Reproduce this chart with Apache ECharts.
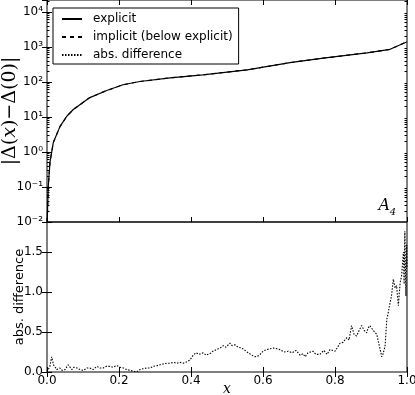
<!DOCTYPE html>
<html>
<head>
<meta charset="utf-8">
<script src="https://cdn.jsdelivr.net/npm/echarts@6/dist/echarts.min.js"></script>
<style>
  html, body { margin: 0; padding: 0; background: #fff; }
  #main { width: 415px; height: 395px; }
</style>
</head>
<body>
<div id="main"></div>
<script>
// top panel: |Delta(x) - Delta(0)|, log scale
var topX = [0, 0.001, 0.0036, 0.0083, 0.0175, 0.036, 0.055, 0.073, 0.119, 0.166, 0.211, 0.258,
            0.342, 0.433, 0.556, 0.675, 0.767, 0.889, 0.953, 0.994, 1.0];
var topY = [0.01, 0.015, 0.107, 0.51, 1.86, 5.3, 10.5, 16.3, 35.7, 57, 83, 103,
            131, 160, 222, 357, 478, 676, 855, 1320, 1410];

// bottom panel: abs. difference
var diffX = [0, 0.008, 0.013, 0.018, 0.027, 0.036, 0.042, 0.050, 0.059, 0.069, 0.075, 0.083, 0.092,
             0.101, 0.111, 0.119, 0.128, 0.138, 0.147, 0.156, 0.164, 0.175, 0.183, 0.194, 0.203,
             0.212, 0.222, 0.231, 0.239, 0.249, 0.258, 0.267, 0.277, 0.286, 0.295, 0.306, 0.314,
             0.322, 0.333, 0.342, 0.351, 0.361, 0.369, 0.379, 0.389, 0.397, 0.406, 0.414, 0.422,
             0.434, 0.442, 0.453, 0.461, 0.471, 0.481, 0.490, 0.497, 0.508, 0.514, 0.522, 0.531,
             0.541, 0.550, 0.559, 0.569, 0.578, 0.586, 0.592, 0.600, 0.610, 0.619, 0.629, 0.639,
             0.647, 0.658, 0.670, 0.681, 0.692, 0.703, 0.711, 0.717, 0.725, 0.739, 0.747, 0.758,
             0.769, 0.778, 0.786, 0.800, 0.814, 0.822, 0.833, 0.839, 0.846, 0.853, 0.860, 0.867,
             0.874, 0.881, 0.888, 0.892, 0.897, 0.906, 0.916, 0.922, 0.930, 0.933, 0.939, 0.944,
             0.947, 0.953, 0.957, 0.962, 0.967, 0.971, 0.976, 0.981, 0.985, 0.990, 0.992, 0.994,
             0.997, 0.999, 1.0];
var diffY = [0, 0.07, 0.19, 0.09, 0.03, 0.05, 0.02, 0.03, 0.09, 0.03, 0.06, 0.05, 0.03,
             0.02, 0.05, 0.05, 0.03, 0.07, 0.05, 0.05, 0.07, 0.07, 0.06, 0.08, 0.06,
             0.05, 0.03, 0.02, 0.01, 0.00, 0.03, 0.04, 0.05, 0.05, 0.07, 0.08, 0.09,
             0.10, 0.11, 0.11, 0.12, 0.11, 0.12, 0.11, 0.13, 0.15, 0.21, 0.24, 0.22,
             0.24, 0.21, 0.23, 0.26, 0.28, 0.30, 0.33, 0.31, 0.36, 0.33, 0.34, 0.31,
             0.30, 0.27, 0.24, 0.21, 0.19, 0.20, 0.22, 0.26, 0.28, 0.29, 0.30, 0.29,
             0.28, 0.25, 0.26, 0.24, 0.27, 0.21, 0.23, 0.19, 0.24, 0.26, 0.22, 0.22,
             0.27, 0.22, 0.28, 0.26, 0.36, 0.37, 0.43, 0.40, 0.58, 0.47, 0.45, 0.52,
             0.58, 0.52, 0.49, 0.55, 0.58, 0.52, 0.47, 0.35, 0.19, 0.22, 0.32, 0.66,
             0.72, 0.87, 0.95, 1.16, 1.05, 1.08, 0.83, 1.12, 1.20, 1.50, 1.10, 1.76,
             0.95, 1.59, 1.30];

var sup = { '-': '⁻', '0': '⁰', '1': '¹', '2': '²', '3': '³', '4': '⁴' };
function logLabel(v) {
    var e = String(Math.round(Math.log10(v)));
    return '10' + e.split('').map(function (c) { return sup[c]; }).join('');
}
// minor ticks 2..9 for each decade
var minorLog = [];
for (var d = -2; d < 5; d++) {
    for (var m = 2; m <= 9; m++) {
        if (m * Math.pow(10, d) < 21900) minorLog.push(m * Math.pow(10, d));
    }
}

function pairs(xs, ys) {
    return xs.map(function (x, i) { return [x, ys[i]]; });
}

var font = 'DejaVu Sans';
var tickStyle = { show: true, inside: true, length: 5, lineStyle: { color: '#000' } };

myChart = echarts.init(document.getElementById('main'));

option = {
    animation: false,
    backgroundColor: '#fff',
    grid: [
        { left: 47, right: 8, top: 0, height: 222, show: true, borderColor: '#000', borderWidth: 1,
          outerBoundsMode: 'none', containLabel: false },
        { left: 47, right: 8, top: 222, height: 150, show: true, borderColor: '#000', borderWidth: 1,
          outerBoundsMode: 'none', containLabel: false }
    ],
    legend: {
        orient: 'vertical',
        left: 53, top: 8,
        width: 183,
        borderColor: '#000', borderWidth: 1,
        padding: [5, 6, 3, 8],
        itemGap: 6,
        itemWidth: 20, itemHeight: 12,
        itemStyle: { opacity: 0 },
        textStyle: { fontFamily: font, fontSize: 12, color: '#000', padding: [0, 0, 0, 6] },
        data: ['explicit', 'implicit (below explicit)', 'abs. difference']
    },
    xAxis: [
        { gridIndex: 0, type: 'value', min: 0, max: 1, interval: 0.2, position: 'bottom',
          axisLine: { show: false }, axisTick: tickStyle, axisLabel: { show: false }, splitLine: { show: false } },
        { gridIndex: 0, type: 'value', min: 0, max: 1, interval: 0.2, position: 'top',
          axisLine: { show: false }, axisTick: tickStyle, axisLabel: { show: false }, splitLine: { show: false } },
        { gridIndex: 1, type: 'value', min: 0, max: 1, interval: 0.2, position: 'bottom',
          name: 'x', nameLocation: 'middle', nameGap: 10, nameMoveOverlap: false,
          nameTextStyle: { fontFamily: 'DejaVu Serif', fontStyle: 'italic', fontSize: 14, color: '#000' },
          axisLine: { show: false }, axisTick: tickStyle,
          axisLabel: { fontFamily: font, fontSize: 12, color: '#000', margin: 3,
                       formatter: function (v) { return v.toFixed(1); } },
          splitLine: { show: false } },
        { gridIndex: 1, type: 'value', min: 0, max: 1, interval: 0.2, position: 'top',
          axisLine: { show: false }, axisTick: tickStyle, axisLabel: { show: false }, splitLine: { show: false } }
    ],
    yAxis: [
        { gridIndex: 0, type: 'log', logBase: 10, min: 0.01, max: 21900, interval: 1, position: 'left',
          name: '|Δ({i|x})−Δ(0)|', nameLocation: 'middle', nameGap: 27, nameMoveOverlap: false,
          nameTextStyle: { fontFamily: 'DejaVu Serif', fontSize: 19, color: '#000',
                           rich: { i: { fontFamily: 'DejaVu Serif', fontStyle: 'italic', fontSize: 19 } } },
          axisLine: { show: false }, axisTick: tickStyle,
          axisLabel: { fontFamily: font, fontSize: 12, color: '#000', margin: 4, showMaxLabel: false,
                       formatter: logLabel },
          splitLine: { show: false } },
        { gridIndex: 0, type: 'log', logBase: 10, min: 0.01, max: 21900, interval: 1, position: 'right',
          axisLine: { show: false }, axisTick: tickStyle, axisLabel: { show: false }, splitLine: { show: false } },
        { gridIndex: 1, type: 'value', min: 0, max: 1.875, interval: 0.5, position: 'left',
          name: 'abs. difference', nameLocation: 'middle', nameGap: 21, nameMoveOverlap: false,
          nameTextStyle: { fontFamily: font, fontSize: 13, color: '#000' },
          axisLine: { show: false }, axisTick: tickStyle,
          axisLabel: { fontFamily: font, fontSize: 12, color: '#000', margin: 4, showMaxLabel: false,
                       formatter: function (v) { return v.toFixed(1); } },
          splitLine: { show: false } },
        { gridIndex: 1, type: 'value', min: 0, max: 1.875, interval: 0.5, position: 'right',
          axisLine: { show: false }, axisTick: tickStyle, axisLabel: { show: false }, splitLine: { show: false } },
        // minor log ticks, left and right
        { gridIndex: 0, type: 'log', logBase: 10, min: 0.01, max: 21900, position: 'left',
          axisLine: { show: false },
          axisTick: { show: true, inside: true, length: 2.5, customValues: minorLog, lineStyle: { color: '#000' } },
          axisLabel: { show: false }, splitLine: { show: false } },
        { gridIndex: 0, type: 'log', logBase: 10, min: 0.01, max: 21900, position: 'right',
          axisLine: { show: false },
          axisTick: { show: true, inside: true, length: 2.5, customValues: minorLog, lineStyle: { color: '#000' } },
          axisLabel: { show: false }, splitLine: { show: false } }
    ],
    graphic: [{
        type: 'text', right: 25, top: 198,
        style: { text: 'A', fontFamily: 'DejaVu Serif', fontStyle: 'italic', fontSize: 16, fill: '#000' }
    }, {
        type: 'text', right: 19, top: 207,
        style: { text: '4', fontFamily: 'DejaVu Serif', fontStyle: 'italic', fontSize: 10, fill: '#000' }
    }],
    series: [
        { name: 'implicit (below explicit)', type: 'line', xAxisIndex: 0, yAxisIndex: 0, z: 1,
          symbol: 'none', data: pairs(topX, topY), color: '#000',
          lineStyle: { color: '#000', width: 1.2, type: [4, 4] } },
        { name: 'explicit', type: 'line', xAxisIndex: 0, yAxisIndex: 0, z: 2,
          symbol: 'none', data: pairs(topX, topY), color: '#000',
          lineStyle: { color: '#000', width: 1.2, type: 'solid' } },
        { name: 'abs. difference', type: 'line', xAxisIndex: 2, yAxisIndex: 2, z: 2,
          symbol: 'none', data: pairs(diffX, diffY), color: '#000',
          lineStyle: { color: '#000', width: 1.1, type: [1.5, 1.5] } }
    ]
};

myChart.setOption(option);
</script>
</body>
</html>
